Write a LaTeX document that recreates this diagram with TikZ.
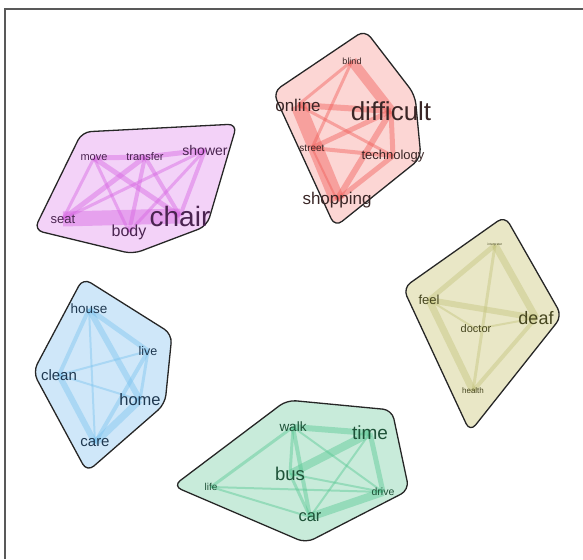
\documentclass[tikz,border=0pt]{standalone}
\usepackage{fontspec}
\setmainfont{Liberation Sans}
\usepackage{tikz}
\usetikzlibrary{positioning}
\definecolor{redfill}{HTML}{FCD6D4}
\definecolor{redline}{HTML}{F2605C}
\definecolor{redtext}{HTML}{3A2626}
\definecolor{purfill}{HTML}{F3D2F8}
\definecolor{purline}{HTML}{D766E2}
\definecolor{purtext}{HTML}{4A2450}
\definecolor{yelfill}{HTML}{E9E7C6}
\definecolor{yelline}{HTML}{C4C47E}
\definecolor{yeltext}{HTML}{46461F}
\definecolor{blufill}{HTML}{CFE7F9}
\definecolor{bluline}{HTML}{7DC5F0}
\definecolor{blutext}{HTML}{1F3850}
\definecolor{grnfill}{HTML}{C8EBDA}
\definecolor{grnline}{HTML}{58C894}
\definecolor{grntext}{HTML}{1E5238}
\pgfdeclarelayer{hulls}
\pgfdeclarelayer{links}
\pgfsetlayers{hulls,links,main}

\begin{document}
\begin{tikzpicture}[
    x=1pt, y=-1pt,
    word/.style={inner sep=0pt, font=\fontsize{#1}{#1}\selectfont},
    hull/.style={draw=black!85, line width=1.3pt, rounded corners=9pt},
    link/.style={line cap=butt, draw opacity=0.45}
]
    \useasboundingbox (0,0) rectangle (583,559);
    \draw[black!65, line width=1.2pt] (5,559) |- (583,9);

    % difficult cluster
    \node[word=9, text=redtext] (blind) at (352,61) {blind};
    \node[word=17, text=redtext] (online) at (298,105) {online};
    \node[word=26, text=redtext] (difficult) at (391,111) {difficult};
    \node[word=10, text=redtext] (street) at (312,148) {street};
    \node[word=13, text=redtext] (technology) at (393,156) {technology};
    \node[word=17, text=redtext] (shopping) at (337,200) {shopping};

    % chair cluster
    \node[word=11, text=purtext] (move) at (94,158) {move};
    \node[word=11, text=purtext] (transfer) at (145,157) {transfer};
    \node[word=14, text=purtext] (shower) at (205,150) {shower};
    \node[word=13, text=purtext] (seat) at (63,219) {seat};
    \node[word=28, text=purtext] (chair) at (180,216) {chair};
    \node[word=16, text=purtext] (body) at (129,232) {body};

    % deaf cluster
    \node[word=3.2, text=yeltext] (interpreter) at (495,245) {interpreter};
    \node[word=13, text=yeltext] (feel) at (429,300) {feel};
    \node[word=18, text=yeltext] (deaf) at (536,318) {deaf};
    \node[word=11, text=yeltext] (doctor) at (476,329) {doctor};
    \node[word=8, text=yeltext] (health) at (473,391) {health};

    % home cluster
    \node[word=13.5, text=blutext] (house) at (89,309) {house};
    \node[word=12.5, text=blutext] (live) at (148,351) {live};
    \node[word=15, text=blutext] (clean) at (59,375) {clean};
    \node[word=16.5, text=blutext] (home) at (140,400) {home};
    \node[word=15, text=blutext] (care) at (95,443) {care};

    % bus cluster
    \node[word=13.5, text=grntext] (walk) at (293,427) {walk};
    \node[word=19, text=grntext] (time) at (370,433) {time};
    \node[word=18.5, text=grntext] (bus) at (290,474) {bus};
    \node[word=10, text=grntext] (life) at (211,487) {life};
    \node[word=10.5, text=grntext] (drive) at (383,492) {drive};
    \node[word=16.5, text=grntext] (car) at (310,517) {car};

    \begin{pgfonlayer}{hulls}
    \draw[hull, fill=redfill] (273,92) -- (365,30) -- (415,95) -- (421,158) -- (335,227) -- cycle;
    \draw[hull, fill=purfill] (34,230) -- (82,132) -- (237,124) -- (207,226) -- (133,254) -- cycle;
    \draw[hull, fill=yelfill] (403,288) -- (505,216) -- (562,316) -- (470,432) -- cycle;
    \draw[hull, fill=blufill] (33,372) -- (83,278) -- (172,334) -- (165,404) -- (87,472) -- cycle;
    \draw[hull, fill=grnfill] (173,486) -- (287,400) -- (392,410) -- (409,490) -- (306,543) -- cycle;
    \end{pgfonlayer}

    \begin{pgfonlayer}{links}
    % difficult
    \draw[link, draw=redline, line width=15pt] (online.center) -- (shopping.center);
    \draw[link, draw=redline, line width=10pt] (blind.center) -- (difficult.center);
    \draw[link, draw=redline, line width=6pt] (online.center) -- (difficult.center);
    \draw[link, draw=redline, line width=5pt] (street.center) -- (difficult.center);
    \draw[link, draw=redline, line width=4pt] (street.center) -- (technology.center);
    \draw[link, draw=redline, line width=6pt] (shopping.center) -- (difficult.center);
    \draw[link, draw=redline, line width=5pt] (shopping.center) -- (technology.center);
    \draw[link, draw=redline, line width=5pt] (technology.center) -- (difficult.center);
    \draw[link, draw=redline, line width=3pt] (online.center) -- (technology.center);
    \draw[link, draw=redline, line width=3pt] (blind.center) -- (online.center);
    \draw[link, draw=redline, line width=3pt] (blind.center) -- (street.center);
    \draw[link, draw=redline, line width=2pt] (street.center) -- (shopping.center);
    % chair
    \draw[link, draw=purline, line width=15pt] (seat.center) -- (chair.center);
    \draw[link, draw=purline, line width=5pt] (move.center) -- (transfer.center);
    \draw[link, draw=purline, line width=5pt] (transfer.center) -- (shower.center);
    \draw[link, draw=purline, line width=5pt] (move.center) -- (chair.center);
    \draw[link, draw=purline, line width=5pt] (transfer.center) -- (seat.center);
    \draw[link, draw=purline, line width=4pt] (transfer.center) -- (body.center);
    \draw[link, draw=purline, line width=4pt] (transfer.center) -- (chair.center);
    \draw[link, draw=purline, line width=4pt] (shower.center) -- (chair.center);
    \draw[link, draw=purline, line width=3pt] (shower.center) -- (seat.center);
    \draw[link, draw=purline, line width=3pt] (move.center) -- (seat.center);
    \draw[link, draw=purline, line width=3pt] (shower.center) -- (body.center);
    \draw[link, draw=purline, line width=3pt] (move.center) -- (body.center);
    % deaf
    \draw[link, draw=yelline, line width=7pt] (feel.center) -- (health.center);
    \draw[link, draw=yelline, line width=7pt] (interpreter.center) -- (deaf.center);
    \draw[link, draw=yelline, line width=5pt] (feel.center) -- (interpreter.center);
    \draw[link, draw=yelline, line width=6pt] (feel.center) -- (deaf.center);
    \draw[link, draw=yelline, line width=4pt] (health.center) -- (deaf.center);
    \draw[link, draw=yelline, line width=3pt] (interpreter.center) -- (health.center);
    \draw[link, draw=yelline, line width=2pt] (feel.center) -- (doctor.center);
    \draw[link, draw=yelline, line width=2pt] (doctor.center) -- (deaf.center);
    % home
    \draw[link, draw=bluline, line width=6pt] (house.center) -- (home.center);
    \draw[link, draw=bluline, line width=5pt] (house.center) -- (live.center);
    \draw[link, draw=bluline, line width=6pt] (clean.center) -- (care.center);
    \draw[link, draw=bluline, line width=7pt] (care.center) -- (home.center);
    \draw[link, draw=bluline, line width=4pt] (care.center) -- (live.center);
    \draw[link, draw=bluline, line width=4pt] (house.center) -- (clean.center);
    \draw[link, draw=bluline, line width=2pt] (clean.center) -- (live.center);
    \draw[link, draw=bluline, line width=2pt] (clean.center) -- (home.center);
    \draw[link, draw=bluline, line width=3pt] (live.center) -- (home.center);
    \draw[link, draw=bluline, line width=2pt] (house.center) -- (care.center);
    % bus
    \draw[link, draw=grnline, line width=6pt] (walk.center) -- (time.center);
    \draw[link, draw=grnline, line width=8pt] (bus.center) -- (time.center);
    \draw[link, draw=grnline, line width=8pt] (car.center) -- (drive.center);
    \draw[link, draw=grnline, line width=5pt] (time.center) -- (drive.center);
    \draw[link, draw=grnline, line width=4pt] (walk.center) -- (car.center);
    \draw[link, draw=grnline, line width=3pt] (walk.center) -- (bus.center);
    \draw[link, draw=grnline, line width=3pt] (bus.center) -- (car.center);
    \draw[link, draw=grnline, line width=3pt] (life.center) -- (walk.center);
    \draw[link, draw=grnline, line width=2pt] (life.center) -- (drive.center);
    \draw[link, draw=grnline, line width=2pt] (life.center) -- (car.center);
    \draw[link, draw=grnline, line width=2pt] (walk.center) -- (drive.center);
    \draw[link, draw=grnline, line width=2pt] (car.center) -- (time.center);
    \draw[link, draw=grnline, line width=2pt] (bus.center) -- (drive.center);
    \end{pgfonlayer}
\end{tikzpicture}
\end{document}
